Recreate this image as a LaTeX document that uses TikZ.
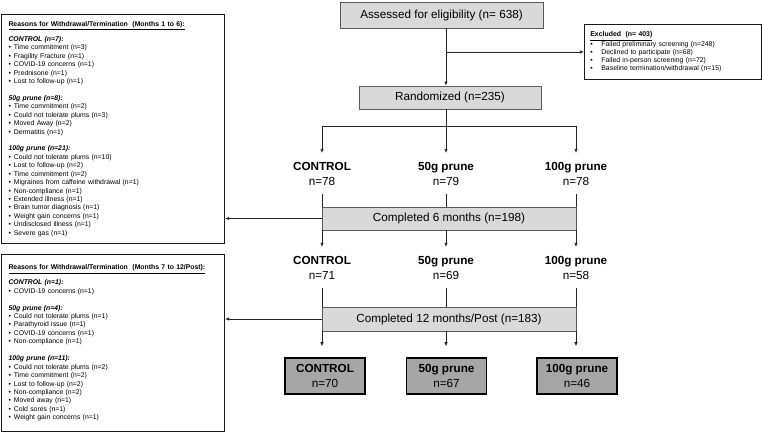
\documentclass[tikz,border=0pt]{standalone}
\usepackage{fontspec}
\setmainfont{Liberation Sans}
\usetikzlibrary{arrows.meta}
\definecolor{lightfill}{RGB}{217,217,217}
\definecolor{darkfill}{RGB}{166,166,166}
\definecolor{edgegray}{RGB}{90,90,90}
\newcommand{\itm}[1]{\makebox[4.6pt][l]{\textbullet}#1}
\newcommand{\exitm}[1]{\makebox[9.4pt][l]{\textbullet}#1}
\newcommand{\grp}[1]{\textbf{\textit{#1}}}

\begin{document}
\begin{tikzpicture}[x=0.3mm,y=-0.3mm,
	line/.style={draw=black!85,line width=0.6pt},
	arr/.style={line,-{Latex[length=3.5pt,width=3pt]}},
	graybox/.style={draw=edgegray,fill=lightfill,line width=0.6pt,inner sep=0pt,font=\fontsize{10}{12}\selectfont},
	group/.style={align=center,inner xsep=1pt,inner ysep=2.6mm,font=\fontsize{10}{12.75}\selectfont},
	finalbox/.style={group,inner ysep=1pt,draw=black,fill=darkfill,line width=1.2pt,minimum width=24mm,minimum height=10.8mm},
	reasons/.style={draw=black!90,line width=0.9pt,anchor=north west,align=left,inner xsep=2.1mm,inner ysep=1mm,text width=62.7mm,font=\fontsize{5.85}{7.2}\selectfont},
	]
	\useasboundingbox (0,0) rectangle (762,432);

	\node[graybox,minimum width=60.9mm,minimum height=7.8mm] (assess) at (441.5,15) {Assessed for eligibility (n= 638)};
	\node[graybox,minimum width=54.6mm,minimum height=6.9mm] (rand) at (450,97.5) {Randomized (n=235)};

	\node[draw=black!90,line width=0.6pt,anchor=north west,align=left,inner xsep=1.8mm,inner ysep=0pt,text width=49.5mm,minimum height=16.5mm,font=\fontsize{5.9}{6.8}\selectfont] (excl) at (584,24) {%
		\underline{\textbf{Excluded\ \ (n= 403)}}\\
		\exitm{Failed preliminary screening (n=248)}\\
		\exitm{Declined to participate (n=68)}\\
		\exitm{Failed in-person screening (n=72)}\\
		\exitm{Baseline termination/withdrawal (n=15)}};

	\coordinate (exbr) at (446,52);
	\coordinate (c1) at (322,126);
	\coordinate (c2) at (446,126);
	\coordinate (c3) at (576,126);

	\node[group,anchor=north] (ctlA) at (322,153) {\textbf{CONTROL}\\n=78};
	\node[group,anchor=north] (lowA) at (446,153) {\textbf{50g prune}\\n=79};
	\node[group,anchor=north] (highA) at (576,153) {\textbf{100g prune}\\n=78};

	\node[graybox,minimum width=76.2mm,minimum height=6.9mm] (six) at (449,218.5) {Completed 6 months (n=198)};

	\node[group,anchor=north] (ctlB) at (322,247) {\textbf{CONTROL}\\n=71};
	\node[group,anchor=north] (lowB) at (446,247) {\textbf{50g prune}\\n=69};
	\node[group,anchor=north] (highB) at (576,247) {\textbf{100g prune}\\n=58};

	\node[graybox,minimum width=76.2mm,minimum height=7.2mm] (twelve) at (449,319) {Completed 12 months/Post (n=183)};

	\node[finalbox] (ctlC) at (325,376) {\textbf{CONTROL}\\n=70};
	\node[finalbox] (lowC) at (446.5,376) {\textbf{50g prune}\\n=67};
	\node[finalbox] (highC) at (577,376) {\textbf{100g prune}\\n=46};

	\node[reasons,minimum height=68.7mm] (whyA) at (1,14) {%
		\underline{\textbf{Reasons for Withdrawal/Termination\ \ (Months 1 to 6):}}\\[4.3pt]
		\grp{CONTROL (n=7):}\\
		\itm{Time commitment (n=3)}\\
		\itm{Fragility Fracture (n=1)}\\
		\itm{COVID-19 concerns (n=1)}\\
		\itm{Prednisone (n=1)}\\
		\itm{Lost to follow-up (n=1)}\\[7.2pt]
		\grp{50g prune (n=8):}\\
		\itm{Time commitment (n=2)}\\
		\itm{Could not tolerate plums (n=3)}\\
		\itm{Moved Away (n=2)}\\
		\itm{Dermatitis (n=1)}\\[7.2pt]
		\grp{100g prune (n=21):}\\
		\itm{Could not tolerate plums (n=10)}\\
		\itm{Lost to follow-up (n=2)}\\
		\itm{Time commitment (n=2)}\\
		\itm{Migraines from caffeine withdrawal (n=1)}\\
		\itm{Non-compliance (n=1)}\\
		\itm{Extended illness (n=1)}\\
		\itm{Brain tumor diagnosis (n=1)}\\
		\itm{Weight gain concerns (n=1)}\\
		\itm{Undisclosed illness (n=1)}\\
		\itm{Severe gas (n=1)}};

	\node[reasons,minimum height=53.1mm] (whyB) at (1,254) {%
		\underline{\textbf{Reasons for Withdrawal/Termination\ \ (Months 7 to 12/Post):}}\\[4.3pt]
		\grp{CONTROL (n=1):}\\
		\itm{COVID-19 concerns (n=1)}\\[7.2pt]
		\grp{50g prune (n=4):}\\
		\itm{Could not tolerate plums (n=1)}\\
		\itm{Parathyroid issue (n=1)}\\
		\itm{COVID-19 concerns (n=1)}\\
		\itm{Non-compliance (n=1)}\\[7.2pt]
		\grp{100g prune (n=11):}\\
		\itm{Could not tolerate plums (n=2)}\\
		\itm{Time commitment (n=2)}\\
		\itm{Lost to follow-up (n=2)}\\
		\itm{Non-compliance (n=2)}\\
		\itm{Moved away (n=1)}\\
		\itm{Cold sores (n=1)}\\
		\itm{Weight gain concerns (n=1)}};

	\draw[arr] (assess.south -| c2) -- (rand.north -| c2);
	\draw[arr] (exbr) -- (excl.west |- exbr);
	\draw[line] (rand.south -| c2) -- (c2);
	\draw[line] (c1) -- (c3);
	\foreach \c/\g in {c1/ctlA, c2/lowA, c3/highA}
		\draw[arr] (\c) -- (\g.north);

	\foreach \a/\b in {ctlA/ctlB, lowA/lowB, highA/highB} {
		\draw[line] (\a.south) -- (six.north -| \a);
		\draw[arr] (six.south -| \a) -- (\b.north);
	}
	\foreach \a/\b in {ctlB/ctlC, lowB/lowC, highB/highC} {
		\draw[line] (\a.south) -- (twelve.north -| \a);
		\draw[arr,shorten >=3.3mm] (twelve.south -| \a) -- (\b.north -| \a);
	}

	\draw[arr] (six.west) -- (whyA.east |- six.west);
	\draw[arr] (twelve.west) -- (whyB.east |- twelve.west);
\end{tikzpicture}
\end{document}
